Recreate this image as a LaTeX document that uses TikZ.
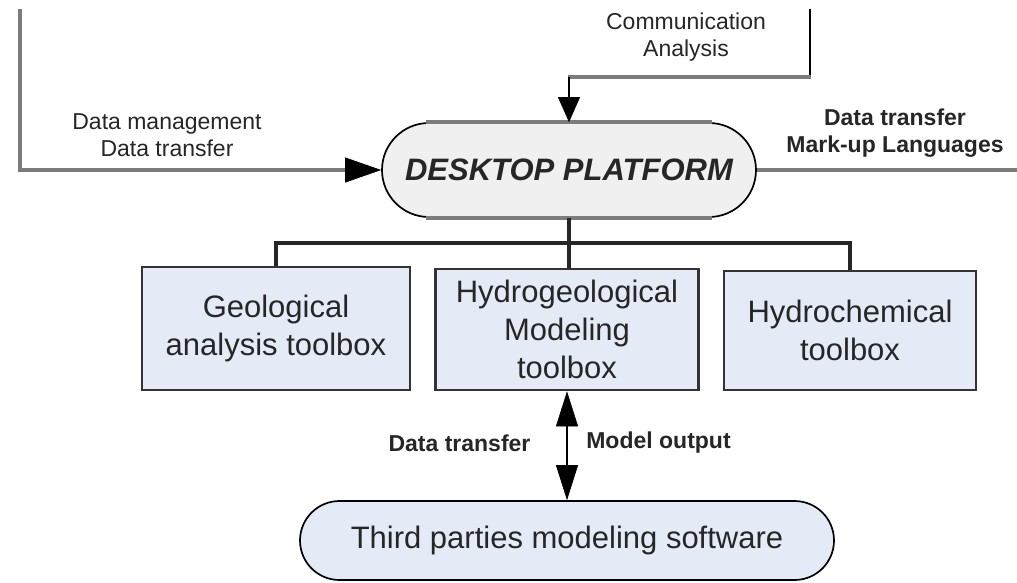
\documentclass[tikz,border=0pt]{standalone}
\usepackage{fontspec}
\setmainfont{Liberation Sans}
\usetikzlibrary{arrows.meta}
\definecolor{boxblue}{HTML}{E4EBF6}
\definecolor{deskgray}{HTML}{F0F0F0}
\definecolor{linegray}{HTML}{7C7C7C}
\definecolor{inkgray}{HTML}{262626}
\tikzset{
  x=1pt, y=-1pt,
  smalltext/.style={text=inkgray, align=center, inner sep=0pt,
    font=\fontsize{23}{26.5}\selectfont},
  smallbold/.style={smalltext, font=\fontsize{23}{26.5}\selectfont\bfseries},
  toolbox/.style={draw=black!80, line width=2.6pt, fill=boxblue,
    inner sep=0pt, align=center, text=inkgray,
    font=\fontsize{31}{38}\selectfont},
  pill/.style={draw=black, line width=1.7pt, inner sep=0pt},
  grayline/.style={draw=linegray, line width=4.6pt},
  thinline/.style={draw=black, line width=2pt},
  treeline/.style={draw=black!85, line width=3.5pt},
  bigtip/.tip={Triangle[length=36pt,width=25pt,color=black,line width=0.6pt]},
  midtip/.tip={Triangle[length=25pt,width=22pt,color=black,line width=0.6pt]},
  dbltip/.tip={Triangle[length=35pt,width=22pt,color=black,line width=0.6pt]},
}
\begin{document}
\begin{tikzpicture}
\useasboundingbox (0,0) rectangle (1017,582);

% central platform
\node[pill, fill=deskgray, minimum width=374pt, minimum height=94pt,
      rounded corners=47pt, text=inkgray,
      font=\fontsize{31}{36}\selectfont\bfseries\itshape]
  (desk) at (569,170) {DESKTOP PLATFORM};
\draw[draw=linegray, line width=4.5pt]
  ([xshift=45pt]desk.north west) -- ([xshift=-45pt]desk.north east);
\draw[draw=linegray, line width=4.5pt]
  ([xshift=45pt]desk.south west) -- ([xshift=-45pt]desk.south east);

% toolboxes
\node[toolbox, minimum width=268pt, minimum height=123pt]
  (geo) at (276,328.5) {Geological\\analysis toolbox};
\node[toolbox, minimum width=263pt, minimum height=121pt]
  (hyd) at (567,329.5) {Hydrogeological\\Modeling\\toolbox};
\node[toolbox, minimum width=252pt, minimum height=119pt]
  (chem) at (850,330.5) {Hydrochemical\\toolbox};

% external modelling software
\node[pill, fill=boxblue, minimum width=534pt, minimum height=79pt,
      rounded corners=39.5pt, text=inkgray,
      font=\fontsize{31}{36}\selectfont]
  (soft) at (567,540.5) {Third parties modeling software};

% incoming and outgoing links of the platform
\coordinate (lTop) at (20,9);
\coordinate (tTop) at (810,9);
\coordinate (tCorner) at (810,77);
\coordinate (tBend) at (569,77);
\coordinate (rEnd) at (1017,170);

\draw[grayline, -{bigtip}] (lTop) |- (desk.west);
\draw[grayline] (desk.east) -- (rEnd);
\draw[thinline] (tTop) -- (tCorner);
\draw[draw=linegray, line width=4pt] ([xshift=1pt]tCorner) -- ([xshift=-1pt]tBend);
\draw[thinline, -{midtip}] (tBend) -- (desk.north);

% tree to the toolboxes
\draw[treeline] (desk.south) -- ++(0,25) coordinate (bus);
\draw[treeline] (bus) -| (geo.north);
\draw[treeline] (bus) -| (chem.north);
\draw[treeline] (bus) -- (bus |- hyd.north);

% exchange with the modelling software
\draw[draw=black, line width=2.6pt, {dbltip}-{dbltip}]
  (hyd.south) -- (hyd.south |- soft.north);

% labels
\node[smalltext] (dmLabel) at (167,135) {Data management\\Data transfer};
\node[smalltext] (caLabel) at (686,37) {Communication\\Analysis};
\node[smallbold] (muLabel) at (895,133) {Data transfer\\Mark-up Languages};
\node[smallbold] (dtLabel) at (459.5,443) {Data transfer};
\node[smallbold] (moLabel) at (658.5,443) {Model output};
\end{tikzpicture}
\end{document}
